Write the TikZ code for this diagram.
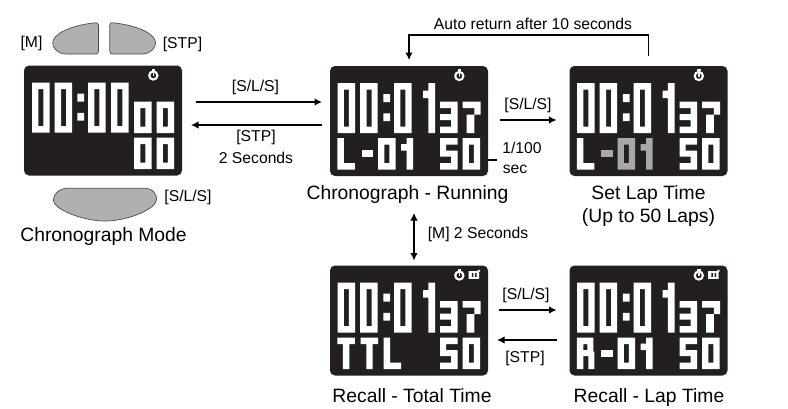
\documentclass[tikz,border=0pt]{standalone}
\usepackage{fontspec}
\setmainfont{Liberation Sans}
\usetikzlibrary{arrows.meta}
\definecolor{lcd}{HTML}{231F20}
\definecolor{btn}{HTML}{B0B0B0}
\definecolor{hl}{HTML}{A8A8A8}
\colorlet{fg}{white}
\tikzset{
  screen/.style={fill=lcd,rounded corners=5pt,minimum width=158pt,minimum height=110pt,inner sep=0pt,outer sep=0pt},
  label/.style={font=\fontsize{15.7}{18}\selectfont,text=black,inner sep=0pt},
  caption/.style={font=\fontsize{19.3}{22}\selectfont,text=black,inner sep=0pt,anchor=base},
  conn/.style={line width=1.3pt,draw=black,-{Latex[length=7.5pt,width=7.5pt]}},
  dconn/.style={line width=1.3pt,draw=black,{Latex[length=7.5pt,width=7.5pt]}-{Latex[length=7.5pt,width=7.5pt]}},
  button/.style={fill=btn,draw=black!70,line width=0.7pt}
}
% small pixel glyphs: 17.5 x 31.5
\newcommand\glyphO{\fill[fg,even odd rule] (0,0) rectangle (17.5,31.5) (6.4,6.5) rectangle (11.3,25);}
\newcommand\glyphOne{\fill[fg] (5.7,0) rectangle (12,31.5) (0,6) rectangle (5.7,12.5);}
\newcommand\glyphThree{\fill[fg] (0,0) rectangle (17.5,6.5) (0,12.5) rectangle (17.5,18.5) (0,25) rectangle (17.5,31.5) (11.2,0) rectangle (17.5,31.5);}
\newcommand\glyphSeven{\fill[fg] (0,0) rectangle (18,6.5) (11.8,0) rectangle (18,13) (4,13) rectangle (11.8,31.5) ;}
\newcommand\glyphFive{\fill[fg] (0,0) rectangle (17.5,6.5) (0,0) rectangle (6.2,18.5) (0,12.5) rectangle (17.5,18.5) (11.2,12.5) rectangle (17.5,31.5) (0,25) rectangle (17.5,31.5);}
\newcommand\glyphL{\fill[fg] (0,0) rectangle (6.5,31.5) (0,25) rectangle (17.5,31.5);}
\newcommand\glyphT{\fill[fg] (0,0) rectangle (17.5,6.5) (5.6,0) rectangle (12,31.5);}
\newcommand\glyphR{\fill[fg] (0,0) rectangle (6.5,31.5) (0,0) rectangle (15.5,6.5) (10.5,0) rectangle (16.5,14) (0,12.5) rectangle (15.5,18.5) (11.5,14) rectangle (17.5,31.5);}
\newcommand\glyphAt[3]{\begin{scope}[shift={(#1,#2)}]#3\end{scope}}
\newcommand\bigO[1]{\fill[fg,even odd rule] (#1,17) rectangle ++(17.5,50) (#1+6.4,23.5) rectangle ++(4.9,37);}
\newcommand\colonMark{\fill[fg] (53.3,28) rectangle (60,36) (53.3,47.3) rectangle (60,55);}
\newcommand\timeRun{%
  \bigO{7.5}\bigO{30.2}\colonMark\bigO{64}
  \fill[fg] (98.3,17) rectangle (105,67) (93,24.5) rectangle (98.3,32);
  \glyphAt{110}{35.5}{\glyphThree}\glyphAt{132.5}{35.5}{\glyphSeven}
}
\newcommand\lapFifty{\glyphAt{110}{72}{\glyphFive}\glyphAt{132.5}{72}{\glyphO}}
\newcommand\watch[1]{%
  \draw[white,line width=2.1pt] (129.3,#1) circle (4.1);
  \fill[white] (127.6,#1-6.9) rectangle (131,#1-4.6);
  \fill[white] (128.6,#1-2.8) rectangle (130.1,#1+0.5);
}
\newcommand\tape{%
  \fill[white] (138.6,5.6) rectangle (149,13.4) (147.8,4.4) rectangle (150,6);
  \fill[lcd] (141.8,7.6) rectangle (143.4,11.4) (145.2,7.6) rectangle (146.6,11.4);
}
\begin{document}
\begin{tikzpicture}[x=1pt,y=-1pt]
\useasboundingbox (0,0) rectangle (788,408);
% screens
\node[screen] (s1) at (103,120.5) {};
\node[screen] (s2) at (409,121) {};
\node[screen] (s3) at (648.5,121) {};
\node[screen] (s4) at (409,320.5) {};
\node[screen] (s5) at (648.5,320.5) {};
% screen 1
\begin{scope}[shift={(s1.north west)}]
  \bigO{8}\bigO{30.7}\colonMark\bigO{64}\bigO{87}
  \glyphAt{110}{36}{\glyphO}\glyphAt{132.5}{36}{\glyphO}
  \glyphAt{110}{72}{\glyphO}\glyphAt{132.5}{72}{\glyphO}
  \watch{10}
\end{scope}
% screen 2
\begin{scope}[shift={(s2.north west)}]
  \timeRun\watch{10}
  \glyphAt{7.3}{72}{\glyphL}
  \fill[fg] (31.7,84) rectangle (43.3,91);
  \glyphAt{48}{72}{\glyphO}\glyphAt{71}{72}{\glyphOne}
  \lapFifty
\end{scope}
% screen 3
\begin{scope}[shift={(s3.north west)}]
  \timeRun\watch{10}
  \glyphAt{7.3}{72}{\glyphL}
  \colorlet{fg}{hl}
  \fill[fg] (31.7,84) rectangle (43.3,91);
  \glyphAt{48}{72}{\glyphO}\glyphAt{71}{72}{\glyphOne}
  \colorlet{fg}{white}
  \lapFifty
\end{scope}
% screen 4
\begin{scope}[shift={(s4.north west)}]
  \timeRun\watch{10}\tape
  \glyphAt{7.3}{72}{\glyphT}\glyphAt{30.7}{72}{\glyphT}\glyphAt{53.5}{72}{\glyphL}
  \lapFifty
\end{scope}
% screen 5
\begin{scope}[shift={(s5.north west)}]
  \timeRun\watch{10}\tape
  \glyphAt{7.3}{72}{\glyphR}
  \fill[fg] (31.7,84) rectangle (43.3,91);
  \glyphAt{48}{72}{\glyphO}\glyphAt{71}{72}{\glyphOne}
  \lapFifty
\end{scope}
% buttons
\newcommand\topbutton{\draw[button] (98.5,25) -- (98.5,51) .. controls (98.5,53) and (97.5,54) .. (96,54) -- (66,54) .. controls (58,54) and (52.7,48) .. (52.7,43) .. controls (52.7,34) and (70,25.5) .. (95,22.8) .. controls (97,22.6) and (98.5,23) .. (98.5,25) -- cycle;}
\topbutton
\begin{scope}[shift={(208.3,0)},xscale=-1]\topbutton\end{scope}
\draw[button] (66,188.3) -- (146,188.3) .. controls (152,188.3) and (156.7,194) .. (156.7,199) .. controls (156.7,209) and (128,221) .. (105,221) .. controls (82,221) and (53.3,209) .. (53.3,200) .. controls (53.3,194) and (60,188.3) .. (66,188.3) -- cycle;
% labels
\node[label] (lm) at (31.5,43.5) {[M]};
\node[label] (lstp) at (182.5,44) {[STP]};
\node[label] (lsls) at (188,197) {[S/L/S]};
\node[caption] (c1) at (103.5,241.7) {Chronograph Mode};
\node[caption] (c2) at (407.5,199.5) {Chronograph - Running};
\node[caption] (c3) at (648.5,199) {Set Lap Time};
\node[caption] (c3b) at (648.5,222) {(Up to 50 Laps)};
\node[caption] (c4) at (412,402) {Recall - Total Time};
\node[caption] (c5) at (649,402) {Recall - Lap Time};
\node[label] (a1) at (255.5,87) {[S/L/S]};
\node[label] (a2) at (256,137.5) {[STP]};
\node[label] (a2b) at (256,158) {2 Seconds};
\node[label] (a3) at (528,105) {[S/L/S]};
\node[label] (t1) at (522,147.5) {1/100};
\node[label] (t2) at (515,169) {sec};
\node[label] (auto) at (533,24) {Auto return after 10 seconds};
\node[label] (ms) at (478,234) {[M] 2 Seconds};
\node[label] (a4) at (526,295) {[S/L/S]};
\node[label] (a5) at (525,358) {[STP]};
% connectors
\draw[conn] ([xshift=14pt,yshift=18.5pt]s1.east) -- ([xshift=-8pt,yshift=19pt]s2.west);
\draw[conn] ([xshift=-8pt,yshift=-4pt]s2.west) -- ([xshift=9pt,yshift=-4.5pt]s1.east);
\draw[conn] ([xshift=12pt,yshift=1pt]s2.east) -- ([xshift=-13pt,yshift=1pt]s3.west);
\draw[conn] ([yshift=10pt]s3.north) -- ++(0,-21) -| ([yshift=6pt]s2.north);
\draw[line width=1.3pt] ([yshift=-39pt]s2.east) -- ++(9,0);
\draw[dconn] ([xshift=5pt,yshift=-37pt]s2.south) -- ([xshift=5pt,yshift=5pt]s4.north);
\draw[conn] ([xshift=11pt,yshift=10.5pt]s4.east) -- ([xshift=-13pt,yshift=10.5pt]s5.west);
\draw[conn] ([xshift=-13pt,yshift=-19.5pt]s5.west) -- ([xshift=9pt,yshift=-19.5pt]s4.east);
\end{tikzpicture}
\end{document}
